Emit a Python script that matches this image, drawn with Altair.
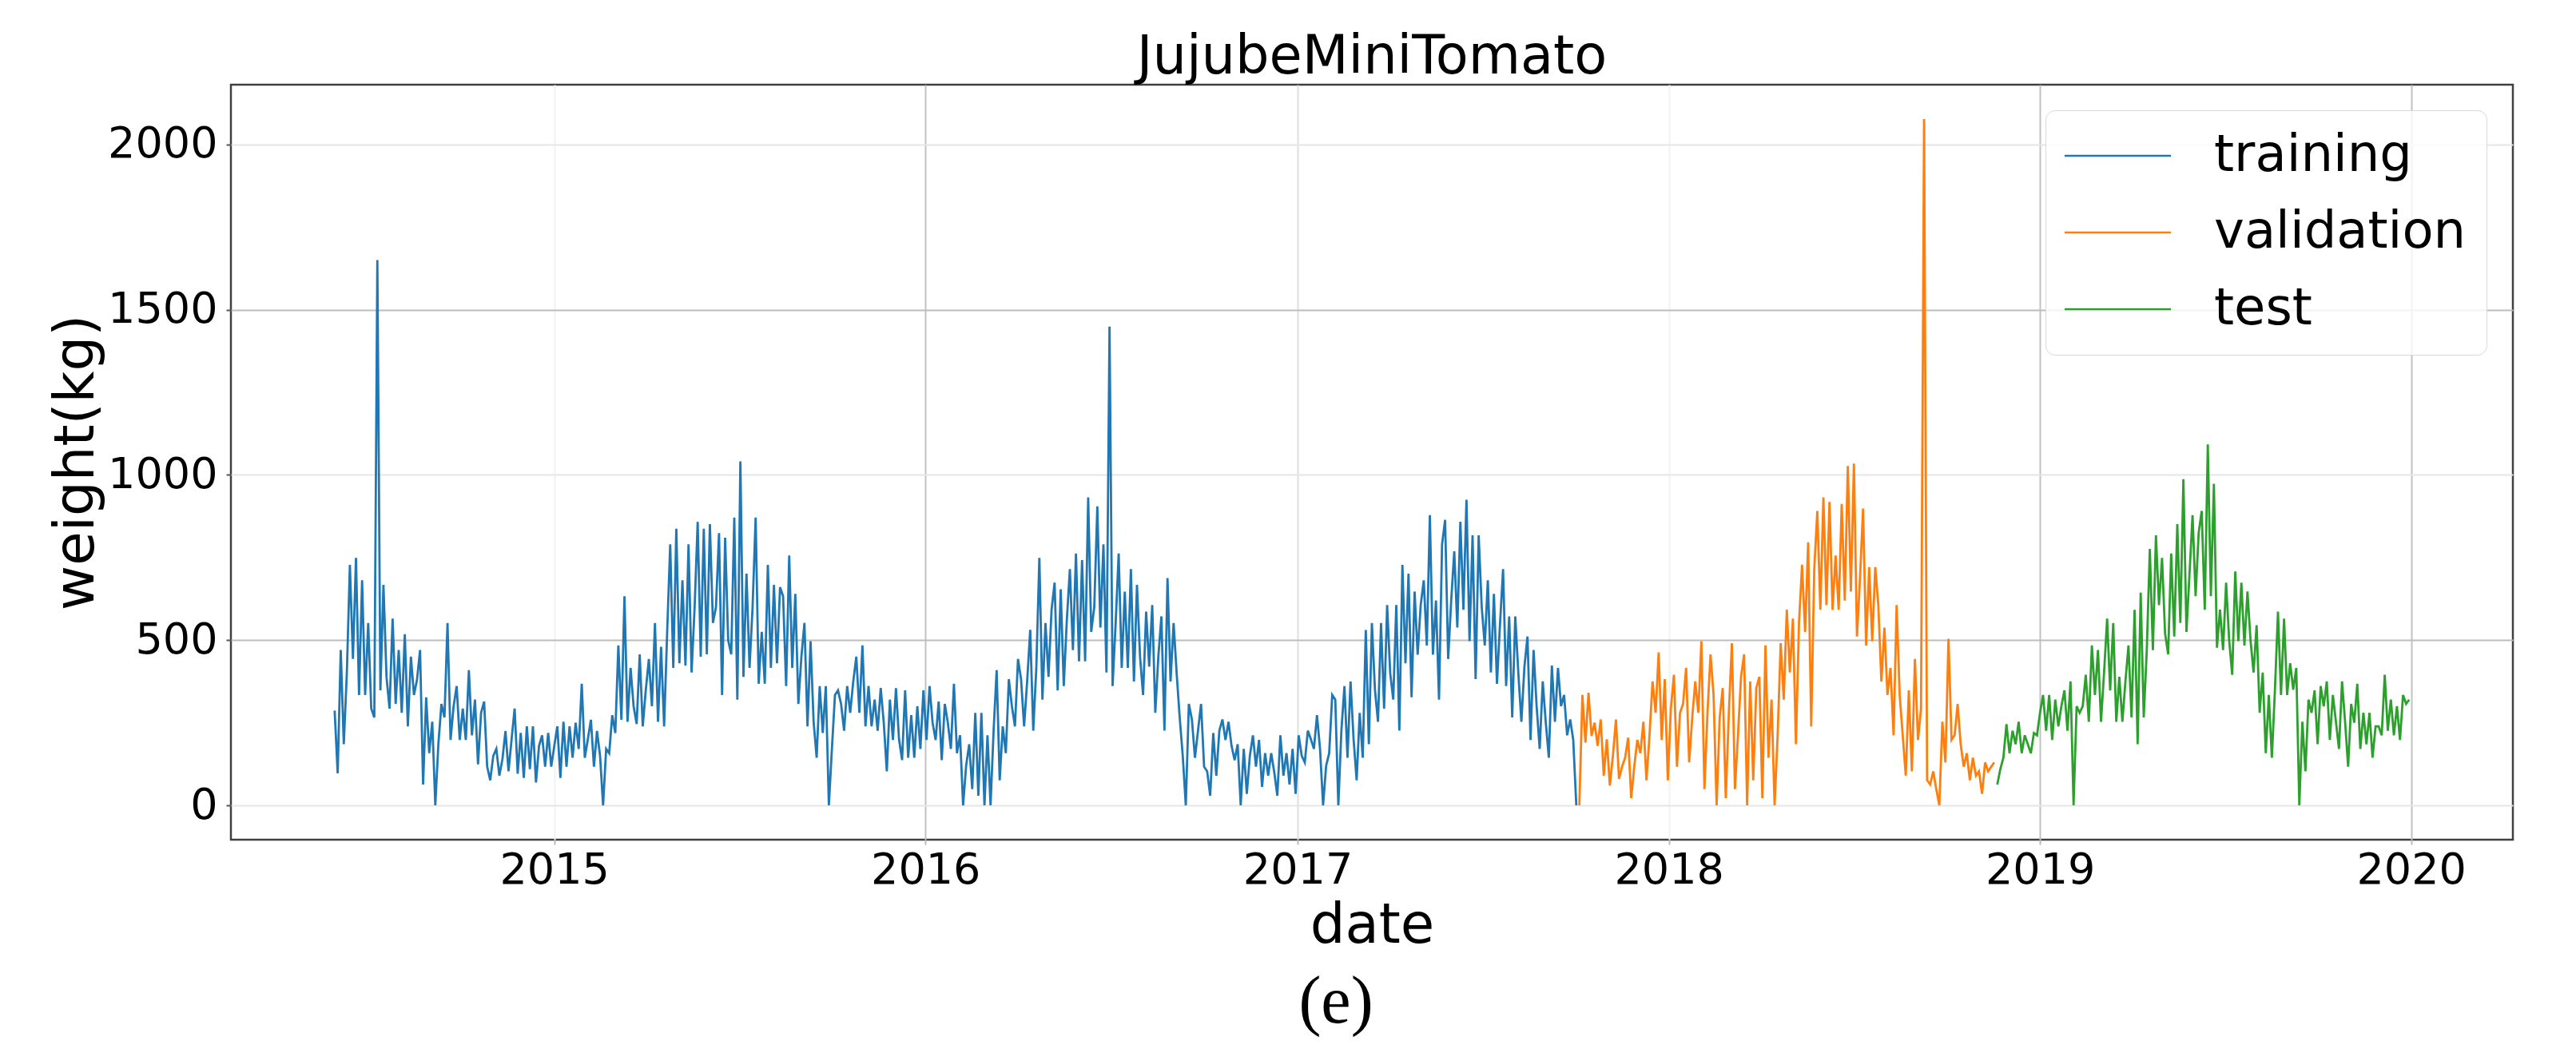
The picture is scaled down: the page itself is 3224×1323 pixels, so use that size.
import altair as alt
import pandas as pd

# ---- data (one value every 3 days) ----
STEP_DAYS = 3
train_start = "2014-05-30"
train_values = [
    287, 97, 470, 185, 400, 728, 443, 749, 334, 681,
    334, 552, 293, 266, 1650, 348, 667, 389, 293, 565,
    307, 470, 280, 518, 239, 450, 334, 380, 470, 63,
    327, 158, 253, 0, 185, 307, 266, 552, 198, 300,
    361, 198, 293, 198, 409, 212, 320, 124, 280, 314,
    117, 76, 150, 171, 90, 140, 225, 103, 200, 293,
    96, 219, 83, 239, 110, 239, 69, 180, 212, 117,
    219, 117, 180, 239, 83, 253, 117, 239, 144, 250,
    171, 368, 144, 200, 259, 117, 225, 150, 0, 171,
    158, 273, 219, 484, 259, 633, 253, 416, 300, 246,
    457, 239, 350, 443, 300, 552, 253, 480, 239, 525,
    790, 416, 837, 430, 681, 423, 790, 402, 600, 858,
    450, 837, 457, 851, 552, 600, 824, 334, 810, 500,
    457, 871, 320, 1041, 389, 701, 416, 600, 871, 368,
    525, 368, 728, 416, 667, 430, 660, 633, 361, 756,
    416, 640, 307, 450, 552, 239, 497, 253, 144, 361,
    219, 361, 0, 171, 334, 348, 307, 226, 361, 280,
    375, 450, 280, 484, 239, 361, 239, 320, 226, 355,
    250, 103, 320, 198, 355, 200, 137, 348, 144, 273,
    144, 300, 171, 348, 198, 361, 250, 198, 314, 137,
    307, 250, 171, 368, 158, 212, 0, 120, 185, 49,
    280, 29, 280, 0, 212, 0, 226, 409, 76, 239,
    158, 382, 300, 239, 443, 382, 239, 375, 531, 226,
    416, 749, 320, 552, 389, 592, 674, 348, 654, 361,
    560, 715, 470, 762, 436, 742, 436, 932, 525, 600,
    905, 538, 790, 402, 1449, 361, 550, 762, 416, 647,
    416, 715, 375, 667, 450, 334, 586, 420, 606, 280,
    450, 572, 226, 688, 375, 552, 400, 266, 150, 0,
    307, 260, 144, 226, 307, 117, 103, 29, 219, 90,
    226, 260, 198, 253, 180, 137, 185, 0, 171, 35,
    150, 212, 117, 198, 56, 158, 90, 158, 100, 29,
    212, 90, 158, 63, 171, 35, 212, 150, 130, 226,
    200, 171, 273, 171, 0, 120, 158, 334, 320, 0,
    226, 361, 144, 375, 200, 76, 280, 144, 531, 185,
    552, 350, 253, 552, 293, 606, 400, 320, 606, 226,
    728, 430, 701, 327, 647, 456, 606, 681, 484, 878,
    456, 620, 320, 790, 864, 443, 620, 769, 538, 858,
    592, 925, 497, 817, 382, 817, 600, 484, 681, 402,
    640, 368, 550, 715, 361, 572, 266, 572, 400, 253,
    420, 511, 198, 470, 300, 171, 375, 250, 144, 423,
    253, 416, 300, 334, 212, 260, 198, 0,
]
val_values = [
    0, 334, 190, 341, 210, 250, 180, 260, 90, 200, 60, 150, 260, 80,
    117, 144, 205, 22, 117, 198, 158, 253, 76, 212,
    375, 280, 463, 198, 382, 76, 293, 395, 117, 280,
    307, 416, 130, 266, 375, 280, 497, 49, 280, 457,
    334, 0, 266, 355, 22, 280, 491, 49, 212, 389,
    457, 0, 375, 76, 355, 389, 22, 484, 144, 320,
    0, 212, 491, 320, 592, 402, 565, 185, 552, 728,
    525, 796, 239, 715, 891, 592, 932, 606, 918, 592,
    756, 592, 912, 620, 1027, 647, 1034, 511, 688, 898,
    484, 721, 497, 721, 606, 375, 538, 334, 416, 212,
    606, 334, 212, 90, 348, 103, 443, 198, 293, 2077,
    76, 63, 103, 49, 0, 253, 130, 504, 198, 212,
    307, 185, 117, 158, 76, 144, 90, 103, 35, 130,
    103, 117, 130,
]
test_values = [
    63, 110, 144, 246, 158, 226, 185, 253, 158, 212,
    185, 158, 219, 212, 280, 334, 226, 334, 198,
    320, 239, 300, 348, 226, 375, 0, 300, 280, 300,
    395, 253, 484, 334, 470, 253, 402, 565, 348, 552,
    253, 389, 253, 375, 484, 266, 592, 185, 644, 266,
    470, 776, 470, 817, 606, 749, 520, 457, 762, 511,
    851, 552, 987, 525, 700, 878, 633, 824, 891, 592,
    1092, 633, 973, 477, 592, 470, 674, 500, 395, 708,
    497, 674, 484, 647, 500, 402, 545, 280, 402, 158,
    334, 144, 348, 586, 334, 565, 334, 430, 350, 416,
    0, 253, 103, 320, 280, 348, 185, 361, 300, 375,
    198, 334, 253, 171, 375, 253, 117, 307, 250, 368,
    171, 280, 185, 280, 144, 239, 239, 212, 395, 226,
    320, 212, 300, 198, 334, 307, 320,
]
series_names = ["training", "validation", "test"]
series_colors = ["#1f77b4", "#ff7f0e", "#2ca02c"]
x_tick_years = [2015, 2016, 2017, 2018, 2019, 2020]
y_tick_values = [0, 500, 1000, 1500, 2000]

# ---- build table ----
t0 = pd.Timestamp(train_start)
v0 = t0 + pd.Timedelta(days=STEP_DAYS * len(train_values))
s0 = v0 + pd.Timedelta(days=STEP_DAYS * len(val_values))
frames = []
for name, start, vals in [("training", t0, train_values),
                          ("validation", v0, val_values),
                          ("test", s0, test_values)]:
    dates = pd.date_range(start, periods=len(vals), freq=f"{STEP_DAYS}D")
    frames.append(pd.DataFrame({"date": dates.strftime("%Y-%m-%d"),
                                "weight": vals, "split": name}))
df = pd.concat(frames, ignore_index=True)

first = t0
last = s0 + pd.Timedelta(days=STEP_DAYS * (len(test_values) - 1))
span = last - first
dmin = first - span * 0.05
dmax = last + span * 0.05
epoch = pd.Timestamp("1970-01-01")
x_domain = [(dmin - epoch) / pd.Timedelta(milliseconds=1),
            (dmax - epoch) / pd.Timedelta(milliseconds=1)]
ymax = max(train_values + val_values + test_values)
y_domain = [-0.05 * ymax, 1.05 * ymax]

FONT = "DejaVu Sans"

x_grid = {
    "condition": [
        {"test": "utcyear(datum.value) == 2016 || utcyear(datum.value) >= 2019", "value": "#c2c2c2"},
        {"test": "utcyear(datum.value) == 2017", "value": "#dedede"},
    ],
    "value": "#f2f2f2",
}
y_grid = {
    "condition": {"test": "datum.value == 500 || datum.value == 1500", "value": "#bdbdbd"},
    "value": "#e6e6e6",
}

# legend line sample: a long stroke drawn beside a small symbol box
legend_line = "M-1.65,0H5.0"

lines = alt.Chart(df).mark_line(strokeWidth=2.8, strokeJoin="miter").encode(
    x=alt.X("date:T",
            title="date",
            scale=alt.Scale(type="utc", domain=x_domain),
            axis=alt.Axis(values=[alt.DateTime(year=y, month=1, date=1, utc=True) for y in x_tick_years],
                          format="%Y", gridColor=x_grid, tickColor="#bbbbbb")),
    y=alt.Y("weight:Q",
            title="weight(kg)",
            scale=alt.Scale(domain=y_domain, nice=False, zero=False),
            axis=alt.Axis(values=y_tick_values, format="d", gridColor=y_grid, tickColor="#555555")),
    color=alt.Color("split:N",
                    scale=alt.Scale(domain=series_names, range=series_colors),
                    sort=series_names,
                    legend=alt.Legend(title=None, orient="none", legendX=2271, legendY=32,
                                      symbolType=legend_line, symbolSize=1600, symbolStrokeWidth=2.6,
                                      symbolFillColor="transparent",
                                      labelFontSize=64, labelFont=FONT, labelColor="#000000",
                                      labelOffset=122, labelLimit=2000, padding=25, rowPadding=32,
                                      fillColor="rgba(255,255,255,0.8)", strokeColor="#d9d9d9",
                                      cornerRadius=12)),
)

caption = alt.Chart(pd.DataFrame({"t": ["(e)"]})).mark_text(
    font="Liberation Serif", fontSize=84, align="center", baseline="middle", color="#000000"
).encode(x=alt.value(1383), y=alt.value(1149), text="t:N")

chart = alt.layer(lines, caption).properties(
    width=2856, height=945,
    autosize=alt.AutoSizeParams(type="none"),
    padding={"left": 281, "top": 98, "right": 71, "bottom": 264},
    title=alt.TitleParams("JujubeMiniTomato", font=FONT, fontSize=67, fontWeight="normal",
                          color="#000000", anchor="middle", offset=0),
    background="white",
).configure_view(
    stroke="#404040", strokeWidth=2.5
).configure_axis(
    labelFont=FONT, labelFontSize=54, labelColor="#000000",
    titleFont=FONT, titleFontSize=69, titleFontWeight="normal", titleColor="#000000",
    domain=False, gridWidth=2, tickSize=6, tickWidth=2, labelPadding=5,
).configure_axisY(
    labelPadding=11, titlePadding=4,
).configure_axisX(
    titlePadding=8,
)

chart.save("out.html", embed_options={"renderer": "svg", "actions": False})
